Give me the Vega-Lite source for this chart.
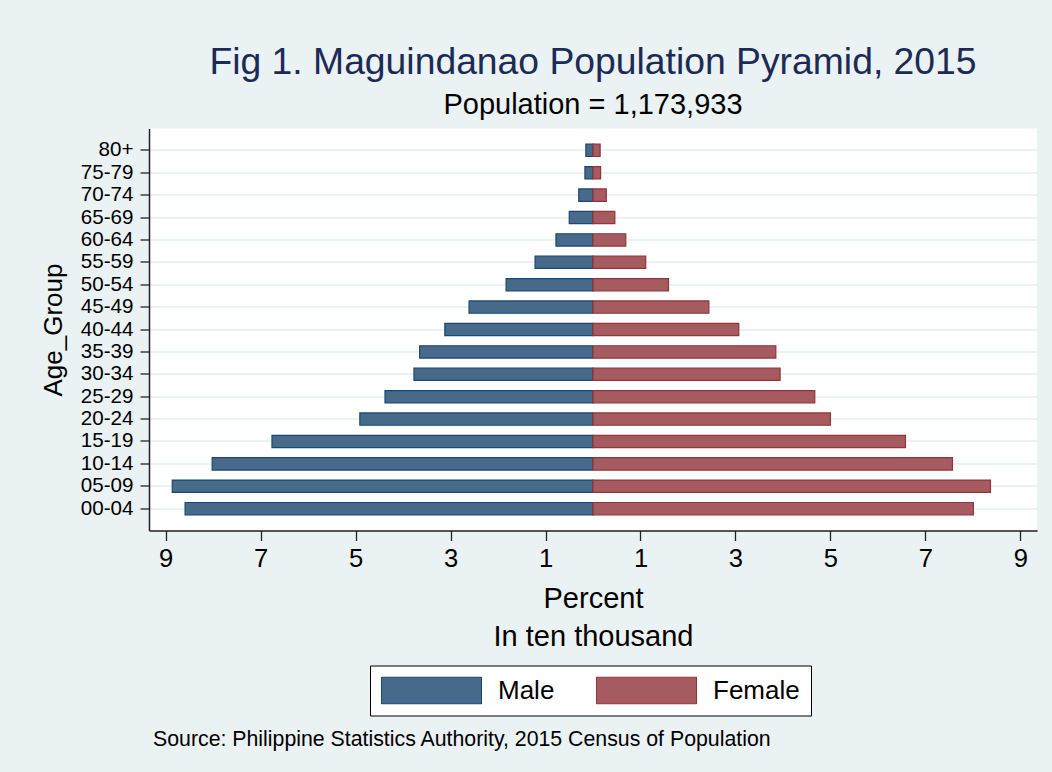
{
  "$schema": "https://vega.github.io/schema/vega-lite/v6.json",
  "background": "#eaf2f3",
  "padding": {"left": 40, "top": 43.5, "right": 15, "bottom": 22},
  "autosize": {"type": "pad"},
  "title": {
    "text": "Source: Philippine Statistics Authority, 2015 Census of Population",
    "orient": "bottom",
    "anchor": "start",
    "frame": "group",
    "font": "Liberation Sans",
    "fontSize": 21.3,
    "fontWeight": "normal",
    "color": "black",
    "offset": 13,
    "dx": 4
  },
  "vconcat": [
    {
      "title": {
        "text": "Fig 1. Maguindanao Population Pyramid, 2015",
        "subtitle": "Population = 1,173,933",
        "anchor": "middle",
        "frame": "group",
        "font": "Liberation Sans",
        "fontSize": 37.3,
        "fontWeight": "normal",
        "color": "#1c2b56",
        "subtitleFont": "Liberation Sans",
        "subtitleFontSize": 29,
        "subtitleColor": "black",
        "subtitlePadding": 8,
        "offset": 8
      },
      "width": 888,
      "height": 402,
      "data": {
        "values": [
          {"age": "80+", "sex": "Male", "value": -0.15},
          {"age": "75-79", "sex": "Male", "value": -0.17},
          {"age": "70-74", "sex": "Male", "value": -0.30},
          {"age": "65-69", "sex": "Male", "value": -0.50},
          {"age": "60-64", "sex": "Male", "value": -0.78},
          {"age": "55-59", "sex": "Male", "value": -1.22},
          {"age": "50-54", "sex": "Male", "value": -1.83},
          {"age": "45-49", "sex": "Male", "value": -2.61},
          {"age": "40-44", "sex": "Male", "value": -3.12},
          {"age": "35-39", "sex": "Male", "value": -3.65},
          {"age": "30-34", "sex": "Male", "value": -3.77},
          {"age": "25-29", "sex": "Male", "value": -4.38},
          {"age": "20-24", "sex": "Male", "value": -4.91},
          {"age": "15-19", "sex": "Male", "value": -6.76},
          {"age": "10-14", "sex": "Male", "value": -8.02},
          {"age": "05-09", "sex": "Male", "value": -8.86},
          {"age": "00-04", "sex": "Male", "value": -8.59},
          {"age": "80+", "sex": "Female", "value": 0.15},
          {"age": "75-79", "sex": "Female", "value": 0.16},
          {"age": "70-74", "sex": "Female", "value": 0.28},
          {"age": "65-69", "sex": "Female", "value": 0.46},
          {"age": "60-64", "sex": "Female", "value": 0.69},
          {"age": "55-59", "sex": "Female", "value": 1.11},
          {"age": "50-54", "sex": "Female", "value": 1.59},
          {"age": "45-49", "sex": "Female", "value": 2.44},
          {"age": "40-44", "sex": "Female", "value": 3.07},
          {"age": "35-39", "sex": "Female", "value": 3.85},
          {"age": "30-34", "sex": "Female", "value": 3.94},
          {"age": "25-29", "sex": "Female", "value": 4.67},
          {"age": "20-24", "sex": "Female", "value": 5.00},
          {"age": "15-19", "sex": "Female", "value": 6.58},
          {"age": "10-14", "sex": "Female", "value": 7.57},
          {"age": "05-09", "sex": "Female", "value": 8.37},
          {"age": "00-04", "sex": "Female", "value": 8.01}
        ]
      },
      "mark": {"type": "bar", "strokeWidth": 1.2, "opacity": 1},
      "encoding": {
        "y": {
          "field": "age",
          "type": "nominal",
          "sort": ["80+", "75-79", "70-74", "65-69", "60-64", "55-59", "50-54", "45-49", "40-44", "35-39", "30-34", "25-29", "20-24", "15-19", "10-14", "05-09", "00-04"],
          "scale": {"paddingInner": 0.45, "paddingOuter": 0.7},
          "axis": {
            "title": "Age_Group",
            "titleFont": "Liberation Sans",
            "titleFontSize": 26,
            "titleFontWeight": "normal",
            "titleColor": "black",
            "titlePadding": 14,
            "labelFont": "Liberation Sans",
            "labelFontSize": 20.6,
            "labelColor": "black",
            "labelPadding": 7,
            "tickSize": 9,
            "tickColor": "#222222",
            "tickWidth": 1.3,
            "domainColor": "#222222",
            "domainWidth": 1.5,
            "grid": true,
            "bandPosition": 0.5,
            "gridColor": "#eaf2f3",
            "gridWidth": 2
          }
        },
        "x": {
          "field": "value",
          "type": "quantitative",
          "stack": null,
          "scale": {"domain": [-9.35, 9.35], "nice": false, "zero": false},
          "axis": {
            "values": [-9, -7, -5, -3, -1, 1, 3, 5, 7, 9],
            "labelExpr": "abs(datum.value)",
            "grid": false,
            "title": ["Percent", "In ten thousand"],
            "titleFont": "Liberation Sans",
            "titleFontSize": 29,
            "titleFontWeight": "normal",
            "titleColor": "black",
            "titleLineHeight": 38,
            "titlePadding": 12,
            "labelFont": "Liberation Sans",
            "labelFontSize": 25.6,
            "labelColor": "black",
            "labelPadding": 6,
            "tickSize": 10,
            "tickColor": "#222222",
            "tickWidth": 1.3,
            "domainColor": "#222222",
            "domainWidth": 1.5
          }
        },
        "color": {
          "field": "sex",
          "type": "nominal",
          "scale": {"domain": ["Male", "Female"], "range": ["#476a8a", "#a55b60"]},
          "legend": {
            "orient": "none",
            "legendX": 221,
            "legendY": 537,
            "direction": "horizontal",
            "title": null,
            "symbolType": "M-1,-0.27L1,-0.27L1,0.27L-1,0.27Z",
            "symbolSize": 10000,
            "symbolStrokeWidth": 1,
            "symbolOpacity": 1,
            "clipHeight": 28,
            "labelFont": "Liberation Sans",
            "labelFontSize": 26,
            "labelColor": "black",
            "labelOffset": 16,
            "columnPadding": 41,
            "padding": 11,
            "strokeColor": "black",
            "fillColor": "white"
          }
        },
        "stroke": {
          "field": "sex",
          "type": "nominal",
          "scale": {"domain": ["Male", "Female"], "range": ["#1a476f", "#90353b"]},
          "legend": null
        }
      }
    }
  ],
  "config": {
    "view": {"stroke": null, "fill": "white"},
    "concat": {"spacing": 0}
  }
}
